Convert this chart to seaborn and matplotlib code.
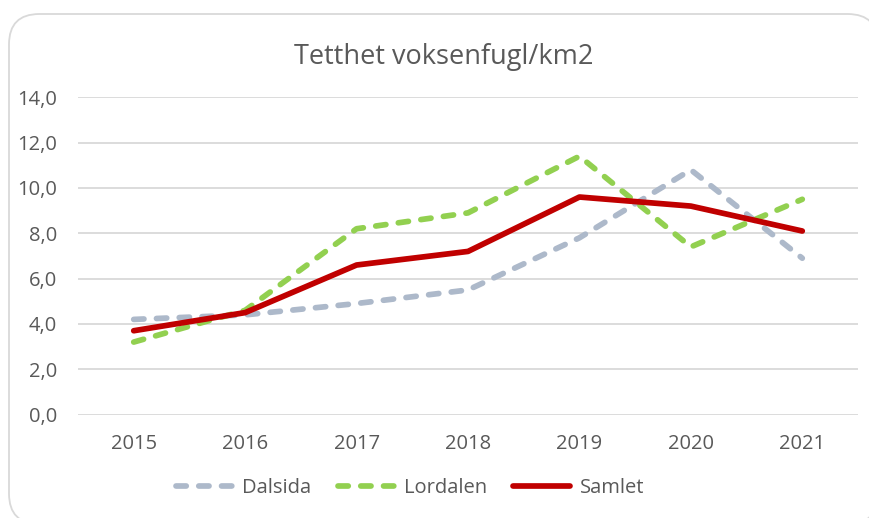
import numpy as np
import pandas as pd
import seaborn as sns
import matplotlib
matplotlib.use("Agg")
import matplotlib.pyplot as plt
from matplotlib.patches import FancyBboxPatch
from matplotlib.lines import Line2D

years = [2015, 2016, 2017, 2018, 2019, 2020, 2021]
dalsida = [4.2, 4.4, 4.9, 5.5, 7.8, 10.8, 6.9]
lordalen = [3.2, 4.6, 8.2, 8.9, 11.4, 7.4, 9.5]
samlet = [3.7, 4.5, 6.6, 7.2, 9.6, 9.2, 8.1]
series_names = ["Dalsida", "Lordalen", "Samlet"]
y_ticks = [0, 2, 4, 6, 8, 10, 12, 14]
title = "Tetthet voksenfugl/km2"

colors = {"Dalsida": "#adb9ca", "Lordalen": "#92d050", "Samlet": "#c00000"}

df = pd.DataFrame({
    "year": years * 3,
    "value": dalsida + lordalen + samlet,
    "series": sum([[n] * len(years) for n in series_names], []),
})

sns.set_theme(style="white")
plt.rcParams["font.family"] = ["Open Sans", "DejaVu Sans"]

W, H = 869, 518
fig = plt.figure(figsize=(W / 100, H / 100), dpi=100)
ax = fig.add_axes([78 / W, 1 - 414.6 / H, (858 - 78) / W, (414.6 - 97.3) / H])

# background frame
frame = FancyBboxPatch((9 / W, -6 / H), (878 - 9) / W, (504 + 6) / H,
                       boxstyle="round,pad=0,rounding_size=0.035",
                       transform=fig.transFigure, facecolor="white",
                       edgecolor="#d9d9d9", linewidth=1.3, zorder=-10,
                       mutation_aspect=W / H, clip_on=False)
fig.patches.append(frame)

for y in y_ticks:
    ax.axhline(y, color="#d9d9d9", lw=1.3, zorder=0)

lw = 4.1
dash = (1.8, 2.2)
sns.lineplot(data=df, x="year", y="value", hue="series", style="series",
             palette=colors, dashes={"Dalsida": dash, "Lordalen": dash, "Samlet": ""},
             linewidth=lw, ax=ax, legend=False, zorder=3)
for line in ax.get_lines():
    line.set_dash_capstyle("round")
    line.set_solid_capstyle("round")
    line.set_solid_joinstyle("round")
    line.set_dash_joinstyle("round")

ax.set_xlim(years[0] - 0.5, years[-1] + 0.5)
ax.set_ylim(0, 14)
ax.set_xticks(years)
ax.set_xticklabels([str(y) for y in years])
ax.set_yticks(y_ticks)
ax.set_yticklabels([f"{v:.1f}".replace(".", ",") for v in y_ticks])
ax.set_xlabel("")
ax.set_ylabel("")
for s in ax.spines.values():
    s.set_visible(False)
ax.tick_params(axis="both", length=0, colors="#595959", labelsize=14.5)
ax.tick_params(axis="y", pad=15)
ax.tick_params(axis="x", pad=14)
ax.set_facecolor("none")

fig.text(443.5 / W, 1 - 57 / H, title, ha="center", va="center",
         fontsize=19.5, color="#595959")

handles = [Line2D([0], [0], color=colors["Dalsida"], lw=lw, dashes=dash, dash_capstyle="round"),
           Line2D([0], [0], color=colors["Lordalen"], lw=lw, dashes=dash, dash_capstyle="round"),
           Line2D([0], [0], color=colors["Samlet"], lw=lw, solid_capstyle="round")]
fig.legend(handles, series_names, loc="center", bbox_to_anchor=(410 / W, 1 - 488 / H),
           ncol=3, frameon=False, fontsize=14.5, labelcolor="#595959",
           handlelength=2.8, handletextpad=0.5, columnspacing=1.3)

fig.savefig("out.png", dpi=100)
